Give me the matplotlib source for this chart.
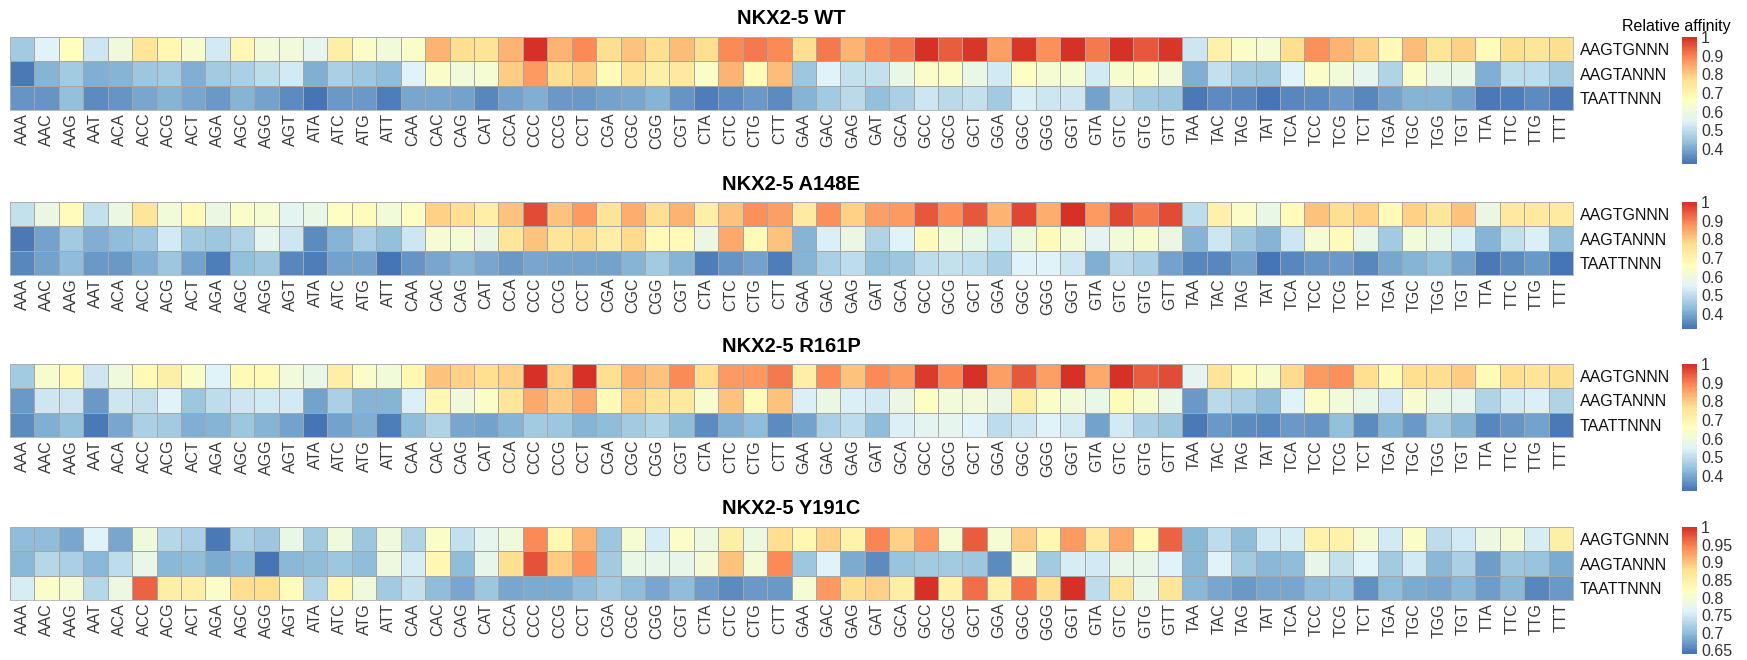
import matplotlib
matplotlib.use("Agg")
import matplotlib.pyplot as plt
import numpy as np
from matplotlib.colors import LinearSegmentedColormap

plt.rcParams['font.family'] = ['Liberation Sans', 'DejaVu Sans']

# 64 trinucleotides, in order
bases = ['A', 'C', 'G', 'T']
codons = [a + b + c for a in bases for b in bases for c in bases]
motifs = ['AAGTGNNN', 'AAGTANNN', 'TAATTNNN']

wt_gtg = [0.46, 0.55, 0.66, 0.52, 0.60, 0.75, 0.69, 0.63, 0.53, 0.69, 0.61, 0.61, 0.57, 0.72, 0.64, 0.61,
          0.64, 0.83, 0.77, 0.76, 0.83, 1.00, 0.83, 0.89, 0.77, 0.81, 0.77, 0.82, 0.77, 0.89, 0.91, 0.89,
          0.77, 0.91, 0.83, 0.89, 0.91, 1.00, 0.94, 0.99, 0.86, 0.99, 0.88, 1.00, 0.91, 1.00, 0.95, 0.99,
          0.52, 0.71, 0.64, 0.62, 0.77, 0.88, 0.83, 0.79, 0.68, 0.82, 0.75, 0.79, 0.67, 0.77, 0.75, 0.77]
wt_gta = [0.33, 0.42, 0.46, 0.41, 0.42, 0.45, 0.46, 0.41, 0.46, 0.47, 0.50, 0.53, 0.41, 0.47, 0.45, 0.43,
          0.55, 0.64, 0.61, 0.62, 0.80, 0.87, 0.77, 0.80, 0.68, 0.76, 0.72, 0.74, 0.64, 0.83, 0.68, 0.82,
          0.45, 0.55, 0.51, 0.51, 0.58, 0.64, 0.64, 0.58, 0.53, 0.65, 0.62, 0.62, 0.53, 0.63, 0.64, 0.61,
          0.41, 0.51, 0.46, 0.45, 0.55, 0.64, 0.61, 0.57, 0.48, 0.64, 0.58, 0.58, 0.41, 0.50, 0.50, 0.46]
wt_tt = [0.37, 0.37, 0.44, 0.36, 0.37, 0.40, 0.42, 0.40, 0.38, 0.42, 0.39, 0.36, 0.32, 0.38, 0.38, 0.34,
         0.40, 0.40, 0.39, 0.35, 0.39, 0.41, 0.38, 0.38, 0.39, 0.40, 0.42, 0.37, 0.34, 0.36, 0.38, 0.36,
         0.42, 0.46, 0.49, 0.44, 0.47, 0.52, 0.49, 0.51, 0.46, 0.54, 0.52, 0.52, 0.39, 0.49, 0.46, 0.45,
         0.33, 0.36, 0.35, 0.32, 0.35, 0.36, 0.38, 0.35, 0.39, 0.42, 0.42, 0.39, 0.33, 0.34, 0.36, 0.33]

a148e_gtg = [0.51, 0.59, 0.67, 0.51, 0.59, 0.75, 0.61, 0.68, 0.59, 0.64, 0.62, 0.56, 0.58, 0.65, 0.67, 0.61,
             0.65, 0.79, 0.77, 0.72, 0.81, 0.96, 0.81, 0.87, 0.76, 0.84, 0.77, 0.83, 0.72, 0.81, 0.88, 0.86,
             0.73, 0.88, 0.79, 0.86, 0.87, 0.95, 0.88, 0.95, 0.83, 0.97, 0.84, 1.00, 0.87, 0.97, 0.91, 0.96,
             0.50, 0.71, 0.64, 0.58, 0.67, 0.81, 0.77, 0.79, 0.68, 0.79, 0.75, 0.81, 0.59, 0.74, 0.74, 0.73]
a148e_gta = [0.33, 0.39, 0.46, 0.41, 0.43, 0.45, 0.53, 0.46, 0.45, 0.48, 0.57, 0.52, 0.36, 0.42, 0.47, 0.44,
             0.52, 0.62, 0.62, 0.59, 0.75, 0.81, 0.75, 0.78, 0.72, 0.78, 0.68, 0.68, 0.59, 0.85, 0.68, 0.81,
             0.42, 0.54, 0.59, 0.48, 0.55, 0.67, 0.61, 0.58, 0.53, 0.60, 0.67, 0.62, 0.56, 0.61, 0.63, 0.59,
             0.42, 0.52, 0.45, 0.42, 0.52, 0.62, 0.67, 0.58, 0.46, 0.61, 0.58, 0.54, 0.42, 0.51, 0.54, 0.44]
a148e_tt = [0.35, 0.39, 0.43, 0.38, 0.38, 0.41, 0.45, 0.39, 0.34, 0.44, 0.45, 0.35, 0.34, 0.39, 0.39, 0.32,
            0.37, 0.40, 0.42, 0.40, 0.38, 0.40, 0.39, 0.39, 0.39, 0.42, 0.46, 0.42, 0.34, 0.37, 0.39, 0.34,
            0.42, 0.47, 0.50, 0.44, 0.45, 0.50, 0.51, 0.50, 0.47, 0.55, 0.55, 0.52, 0.41, 0.49, 0.47, 0.39,
            0.35, 0.35, 0.39, 0.32, 0.35, 0.37, 0.38, 0.35, 0.40, 0.42, 0.44, 0.39, 0.33, 0.36, 0.38, 0.32]

r161p_gtg = [0.46, 0.63, 0.68, 0.52, 0.60, 0.68, 0.72, 0.64, 0.55, 0.68, 0.68, 0.61, 0.58, 0.72, 0.64, 0.61,
             0.69, 0.81, 0.79, 0.77, 0.79, 1.00, 0.79, 1.00, 0.77, 0.83, 0.81, 0.89, 0.77, 0.87, 0.87, 0.91,
             0.72, 0.89, 0.81, 0.89, 0.87, 0.98, 0.89, 1.00, 0.86, 0.95, 0.86, 1.00, 0.85, 1.00, 0.94, 0.96,
             0.56, 0.76, 0.68, 0.63, 0.78, 0.87, 0.88, 0.77, 0.68, 0.77, 0.77, 0.80, 0.68, 0.77, 0.76, 0.77]
r161p_gta = [0.38, 0.52, 0.52, 0.38, 0.52, 0.51, 0.55, 0.45, 0.50, 0.52, 0.53, 0.53, 0.39, 0.47, 0.42, 0.42,
             0.54, 0.69, 0.60, 0.64, 0.75, 0.85, 0.80, 0.85, 0.68, 0.79, 0.76, 0.74, 0.63, 0.81, 0.68, 0.81,
             0.54, 0.59, 0.54, 0.53, 0.59, 0.65, 0.61, 0.61, 0.59, 0.72, 0.64, 0.61, 0.58, 0.67, 0.63, 0.58,
             0.38, 0.49, 0.47, 0.43, 0.55, 0.64, 0.61, 0.58, 0.53, 0.63, 0.58, 0.57, 0.48, 0.53, 0.54, 0.48]
r161p_tt = [0.36, 0.41, 0.44, 0.33, 0.40, 0.47, 0.46, 0.41, 0.42, 0.45, 0.42, 0.39, 0.32, 0.39, 0.41, 0.34,
            0.43, 0.48, 0.40, 0.39, 0.42, 0.46, 0.45, 0.42, 0.43, 0.46, 0.48, 0.43, 0.36, 0.41, 0.43, 0.36,
            0.39, 0.47, 0.50, 0.43, 0.54, 0.56, 0.57, 0.55, 0.50, 0.52, 0.55, 0.53, 0.39, 0.53, 0.47, 0.45,
            0.33, 0.38, 0.36, 0.35, 0.38, 0.37, 0.44, 0.36, 0.42, 0.38, 0.46, 0.42, 0.35, 0.37, 0.39, 0.33]

y191c_gtg = [0.70, 0.70, 0.68, 0.76, 0.68, 0.79, 0.73, 0.72, 0.645, 0.72, 0.71, 0.78, 0.715, 0.79, 0.71, 0.79,
             0.725, 0.81, 0.74, 0.77, 0.79, 0.94, 0.835, 0.91, 0.71, 0.80, 0.755, 0.81, 0.785, 0.85, 0.785, 0.88,
             0.835, 0.89, 0.845, 0.945, 0.89, 0.935, 0.80, 0.97, 0.80, 0.895, 0.835, 0.93, 0.86, 0.92, 0.83, 0.965,
             0.695, 0.735, 0.70, 0.75, 0.755, 0.845, 0.845, 0.80, 0.75, 0.81, 0.735, 0.75, 0.785, 0.795, 0.755, 0.85]
y191c_gta = [0.695, 0.73, 0.72, 0.695, 0.735, 0.78, 0.695, 0.70, 0.685, 0.695, 0.64, 0.695, 0.70, 0.71, 0.70, 0.785,
             0.755, 0.835, 0.70, 0.775, 0.88, 0.975, 0.895, 0.935, 0.715, 0.78, 0.775, 0.775, 0.795, 0.90, 0.795, 0.94,
             0.71, 0.76, 0.685, 0.66, 0.705, 0.715, 0.715, 0.71, 0.66, 0.80, 0.715, 0.755, 0.75, 0.775, 0.775, 0.76,
             0.695, 0.76, 0.715, 0.695, 0.70, 0.775, 0.74, 0.76, 0.715, 0.75, 0.695, 0.72, 0.675, 0.71, 0.705, 0.685]
y191c_tt = [0.755, 0.81, 0.80, 0.73, 0.785, 0.965, 0.85, 0.85, 0.81, 0.88, 0.88, 0.825, 0.725, 0.835, 0.79, 0.715,
            0.74, 0.70, 0.68, 0.71, 0.68, 0.685, 0.685, 0.70, 0.715, 0.70, 0.68, 0.70, 0.675, 0.66, 0.67, 0.67,
            0.80, 0.93, 0.88, 0.89, 0.85, 1.00, 0.845, 0.96, 0.845, 0.955, 0.88, 1.00, 0.735, 0.87, 0.78, 0.87,
            0.695, 0.68, 0.67, 0.68, 0.68, 0.70, 0.705, 0.665, 0.70, 0.685, 0.68, 0.695, 0.675, 0.695, 0.655, 0.67]

titles = ['NKX2-5 WT', 'NKX2-5 A148E', 'NKX2-5 R161P', 'NKX2-5 Y191C']
panels = [[wt_gtg, wt_gta, wt_tt],
          [a148e_gtg, a148e_gta, a148e_tt],
          [r161p_gtg, r161p_gta, r161p_tt],
          [y191c_gtg, y191c_gta, y191c_tt]]
cbar_ticks = [[0.4, 0.5, 0.6, 0.7, 0.8, 0.9, 1.0]] * 3 + [[0.65, 0.7, 0.75, 0.8, 0.85, 0.9, 0.95, 1.0]]

# pheatmap default palette: rev(brewer.pal(7, "RdYlBu"))
cmap = LinearSegmentedColormap.from_list(
    'rdylbu_r', ['#4575B4', '#91BFDB', '#E0F3F8', '#FFFFBF', '#FEE090', '#FC8D59', '#D73027'], N=100)

W, H = 1747, 660
fig = plt.figure(figsize=(W / 100, H / 100), dpi=100)


def px_axes(x0, y0, w, h):
    return fig.add_axes([x0 / W, 1 - (y0 + h) / H, w / W, h / H])


hm_left, hm_right = 10, 1573
hm_tops = [37, 202, 364, 527]
hm_h = 73
cb_left, cb_w, cb_h = 1682, 15, 127

for i, (rows, title, ticks) in enumerate(zip(panels, titles, cbar_ticks)):
    data = np.array(rows)
    top = hm_tops[i]
    ax = px_axes(hm_left, top, hm_right - hm_left, hm_h)
    mesh = ax.pcolormesh(data, cmap=cmap, vmin=data.min(), vmax=data.max(),
                         edgecolors='#a6a6a6', linewidth=0.6)
    ax.set_xlim(0, len(codons))
    ax.set_ylim(len(motifs), 0)
    ax.set_xticks(np.arange(len(codons)) + 0.5)
    ax.set_xticklabels(codons, rotation=90, fontsize=11.5, color='#3a3a3a')
    ax.set_yticks(np.arange(len(motifs)) + 0.5)
    ax.set_yticklabels(motifs, fontsize=11.5, color='#111111')
    ax.yaxis.tick_right()
    ax.tick_params(length=0)
    ax.tick_params(axis='x', pad=2)
    ax.tick_params(axis='y', pad=5)
    for s in ax.spines.values():
        s.set_color('#b0b0b0')
        s.set_linewidth(0.6)

    fig.text((hm_left + hm_right) / 2 / W, 1 - (top - 18) / H, title,
             ha='center', va='center', fontsize=14.5, fontweight='bold')

    cax = px_axes(cb_left, top, cb_w, cb_h)
    cb = fig.colorbar(mesh, cax=cax)
    cb.outline.set_visible(False)
    cb.set_ticks(ticks)
    cb.set_ticklabels(['%g' % t for t in ticks])
    cax.tick_params(length=0, labelsize=11.5, pad=3, colors='#333333')

fig.text(1676 / W, 1 - 26 / H, 'Relative affinity', ha='center', va='center', fontsize=11.5)

fig.savefig('out.png', dpi=100)
